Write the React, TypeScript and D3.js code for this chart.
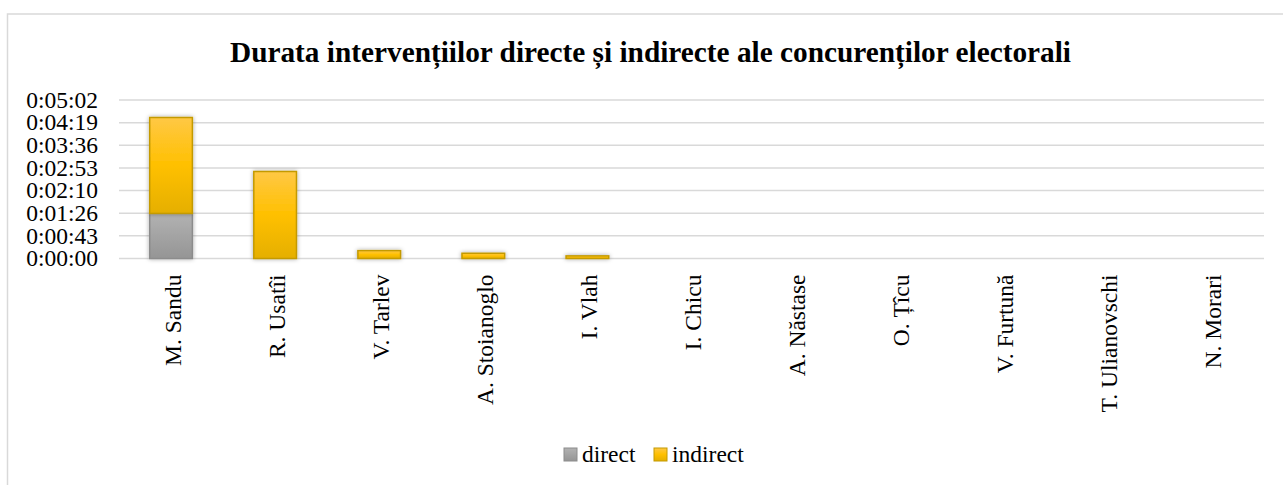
import React from "react";
import * as d3 from "d3";

const categories = [
  "M. Sandu",
  "R. Usatîi",
  "V. Tarlev",
  "A. Stoianoglo",
  "I. Vlah",
  "I. Chicu",
  "A. Năstase",
  "O. Țîcu",
  "V. Furtună",
  "T. Ulianovschi",
  "N. Morari",
];
// seconds
const directValues = [86, 0, 0, 0, 0, 0, 0, 0, 0, 0, 0];
const indirectValues = [183, 166, 15, 10, 5, 0, 0, 0, 0, 0, 0];
// Excel time axis, major unit 0.0005 day = 43.2 s
const yTickValues = [0, 43.2, 86.4, 129.6, 172.8, 216, 259.2, 302.4];
const seriesNames = ["direct", "indirect"];

const W = 1283;
const H = 485;
const FONT = "'Liberation Serif', 'Times New Roman', serif";

function fmtTime(s: number) {
  const t = Math.round(s);
  const h = Math.floor(t / 3600);
  const m = Math.floor((t % 3600) / 60);
  const sec = t % 60;
  return `${h}:${String(m).padStart(2, "0")}:${String(sec).padStart(2, "0")}`;
}

export default function App() {
  const plotLeft = 119;
  const plotRight = 1264;
  const plotTop = 100;
  const plotBottom = 258.5;

  const x = d3
    .scaleBand<string>()
    .domain(categories)
    .range([plotLeft, plotRight])
    .paddingInner(0.59)
    .paddingOuter(0.295);
  const y = d3
    .scaleLinear()
    .domain([0, yTickValues[yTickValues.length - 1]])
    .range([plotBottom, plotTop]);

  const stackData = categories.map((c, i) => ({
    cat: c,
    direct: directValues[i],
    indirect: indirectValues[i],
  }));
  const stack = d3.stack<any>().keys(seriesNames)(stackData);

  const styles: Record<string, { grad: string; stroke: string }> = {
    direct: { grad: "url(#gGray)", stroke: "#8C8C8C" },
    indirect: { grad: "url(#gGold)", stroke: "#C49A00" },
  };

  return (
    <svg
      width={W}
      height={H}
      style={{ position: "absolute", left: 0, top: 0, background: "#fff" }}
    >
      <defs>
        <linearGradient id="gGold" x1="0" y1="0" x2="0" y2="1">
          <stop offset="0%" stopColor="#FFC845" />
          <stop offset="50%" stopColor="#FFC000" />
          <stop offset="100%" stopColor="#E5AF00" />
        </linearGradient>
        <linearGradient id="gGray" x1="0" y1="0" x2="0" y2="1">
          <stop offset="0%" stopColor="#B2B2B2" />
          <stop offset="100%" stopColor="#959595" />
        </linearGradient>
        <filter id="shadow" x="-30%" y="-30%" width="160%" height="160%">
          <feDropShadow dx="0" dy="0" stdDeviation="2" floodColor="#000" floodOpacity="0.35" />
        </filter>
      </defs>

      <rect x={7.5} y={14} width={W + 10} height={H + 10} fill="#fff" stroke="#D9D9D9" strokeWidth={1.5} />

      <text
        x={650.5}
        y={62}
        textAnchor="middle"
        fontFamily={FONT}
        fontWeight="bold"
        fontSize={29.3}
        fill="#000"
      >
        Durata intervențiilor directe și indirecte ale concurenților electorali
      </text>

      {yTickValues.map((t) => (
        <g key={t}>
          <line x1={plotLeft} x2={plotRight} y1={y(t)} y2={y(t)} stroke="#D9D9D9" strokeWidth={1.5} />
          <text
            x={98}
            y={y(t)}
            dy="0.33em"
            textAnchor="end"
            fontFamily={FONT}
            fontSize={23.5}
            fill="#000"
          >
            {fmtTime(t)}
          </text>
        </g>
      ))}

      {stack.map((layer) => (
        <g key={layer.key} filter="url(#shadow)">
          {layer.map((d, i) =>
            d[1] - d[0] > 0 ? (
              <rect
                key={i}
                x={x(categories[i])!}
                y={y(d[1])}
                width={x.bandwidth()}
                height={y(d[0]) - y(d[1])}
                fill={styles[layer.key].grad}
                stroke={styles[layer.key].stroke}
                strokeWidth={1.5}
              />
            ) : null
          )}
        </g>
      ))}

      {categories.map((c) => {
        const cx = x(c)! + x.bandwidth() / 2;
        return (
          <text
            key={c}
            transform={`translate(${cx + 9.5},${274.5}) rotate(-90)`}
            textAnchor="end"
            fontFamily={FONT}
            fontSize={23.5}
            fill="#000"
          >
            {c}
          </text>
        );
      })}

      <g>
        <rect x={564} y={448} width={13} height={13} fill="url(#gGray)" stroke="#8C8C8C" strokeWidth={1} />
        <text x={582} y={461.5} fontFamily={FONT} fontSize={23.5} fill="#000">
          {seriesNames[0]}
        </text>
        <rect x={654} y={448} width={13} height={13} fill="url(#gGold)" stroke="#C49A00" strokeWidth={1} />
        <text x={672} y={461.5} fontFamily={FONT} fontSize={23.5} fill="#000">
          {seriesNames[1]}
        </text>
      </g>
    </svg>
  );
}
